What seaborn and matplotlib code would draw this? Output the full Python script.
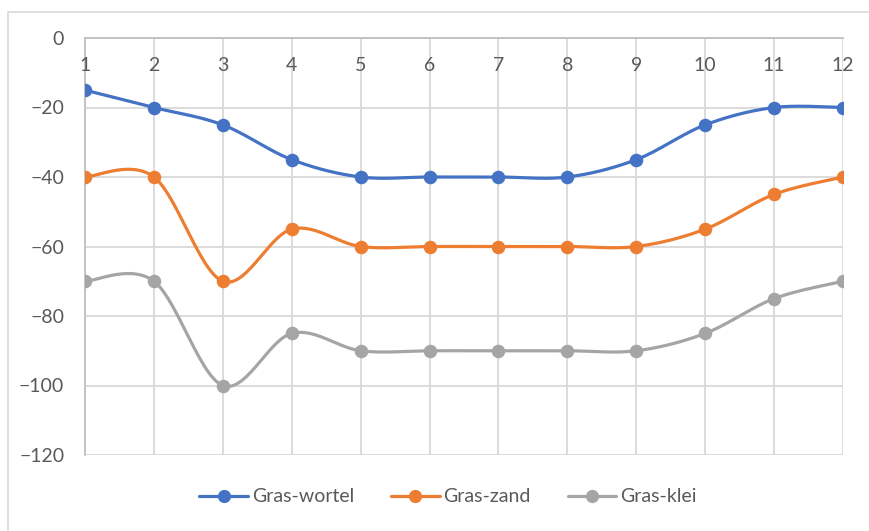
import numpy as np
import pandas as pd
import matplotlib
matplotlib.use("Agg")
import matplotlib.pyplot as plt
from matplotlib.lines import Line2D
from matplotlib.patches import Rectangle
import seaborn as sns

months = [1, 2, 3, 4, 5, 6, 7, 8, 9, 10, 11, 12]
gras_wortel = [-15, -20, -25, -35, -40, -40, -40, -40, -35, -25, -20, -20]
gras_zand = [-40, -40, -70, -55, -60, -60, -60, -60, -60, -55, -45, -40]
gras_klei = [-70, -70, -100, -85, -90, -90, -90, -90, -90, -85, -75, -70]
series_names = ["Gras-wortel", "Gras-zand", "Gras-klei"]
colors = ["#4472C4", "#ED7D31", "#A5A5A5"]
y_ticks = [0, -20, -40, -60, -80, -100, -120]

sns.set_theme(style="white")
plt.rcParams["font.family"] = ["Lato", "DejaVu Sans"]
text_color = "#595959"
grid_color = "#D9D9D9"


def smooth(xs, ys, steps=30):
    """Cubic Bezier smoothing through every point (spreadsheet-style smoothed line)."""
    pts = np.column_stack([xs, ys]).astype(float)
    n = len(pts)
    out = [pts[0]]
    for i in range(n - 1):
        p0 = pts[i - 1] if i > 0 else pts[i]
        p1 = pts[i]
        p2 = pts[i + 1]
        p3 = pts[i + 2] if i + 2 < n else pts[i + 1]
        c1 = p1 + (p2 - p0) / 6.0
        c2 = p2 - (p3 - p1) / 6.0
        t = np.linspace(0, 1, steps)[1:, None]
        seg = ((1 - t) ** 3) * p1 + 3 * ((1 - t) ** 2) * t * c1 + 3 * (1 - t) * t ** 2 * c2 + t ** 3 * p2
        out.extend(seg)
    out = np.array(out)
    return out[:, 0], out[:, 1]


fig = plt.figure(figsize=(8.70, 5.31), dpi=100)
ax = fig.add_axes([85 / 870, 1 - 455 / 531, (843 - 85) / 870, (455 - 38) / 531])

# outer chart frame
fig.add_artist(Rectangle((8 / 870, -0.05), 1.2, 1 - 12 / 531 + 0.05, transform=fig.transFigure,
                         fill=False, edgecolor="#D9D9D9", linewidth=1.2))

handles = []
for name, vals, col in zip(series_names, [gras_wortel, gras_zand, gras_klei], colors):
    sx, sy = smooth(months, vals)
    curve = pd.DataFrame({"x": sx, "y": sy})
    sns.lineplot(data=curve, x="x", y="y", sort=False, color=col, linewidth=2.3, ax=ax, zorder=3)
    pts = pd.DataFrame({"x": months, "y": vals})
    sns.scatterplot(data=pts, x="x", y="y", color=col, s=95, edgecolor=col, linewidth=0, ax=ax, zorder=4)
    handles.append(Line2D([0], [0], color=col, linewidth=2.3, marker="o", markersize=9.5,
                          markeredgewidth=0, label=name))

ax.set_xlim(months[0], months[-1])
ax.set_ylim(-120, 0)
ax.set_xticks(months)
ax.set_yticks(y_ticks)
ax.grid(True, color=grid_color, linewidth=1.3)
ax.set_axisbelow(True)
for side in ["right", "bottom"]:
    ax.spines[side].set_visible(False)
for side in ["left", "top"]:
    ax.spines[side].set_color("#BFBFBF")
    ax.spines[side].set_linewidth(1.3)
ax.set_xlabel("")
ax.set_ylabel("")
ax.tick_params(axis="x", bottom=False, top=False, labelbottom=False, labeltop=False)
ax.tick_params(axis="y", length=0, pad=15, labelsize=14, labelcolor=text_color)

# category labels sit just beneath the zero line
for m in months:
    ax.text(m, -8, str(m), ha="center", va="center", fontsize=14, color=text_color, clip_on=False)

fig.legend(handles=handles, loc="center", bbox_to_anchor=(0.515, 1 - 497 / 531), ncol=3,
           frameon=False, fontsize=14, labelcolor=text_color, handlelength=2.5,
           handletextpad=0.2, columnspacing=1.9)

fig.savefig("out.png", dpi=100)
